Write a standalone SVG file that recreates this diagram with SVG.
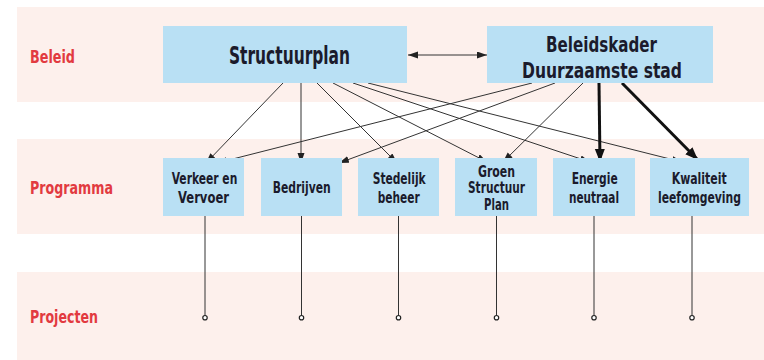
<svg xmlns="http://www.w3.org/2000/svg" width="764" height="360" viewBox="0 0 764 360">
<style>
.band{fill:#fdf0ec}
.box{fill:#b9e0f4}
.lbl{font-family:"Liberation Sans Narrow","DejaVu Sans Condensed","Liberation Sans",Arial,sans-serif;font-weight:bold;fill:#e23a40;font-size:17px}
.big{font-family:"Liberation Sans Narrow","DejaVu Sans Condensed","Liberation Sans",Arial,sans-serif;font-weight:bold;fill:#1b1b2c;font-size:25px}
.big2{font-family:"Liberation Sans Narrow","DejaVu Sans Condensed","Liberation Sans",Arial,sans-serif;font-weight:bold;fill:#1b1b2c;font-size:22px}
.t{font-family:"Liberation Sans Narrow","DejaVu Sans Condensed","Liberation Sans",Arial,sans-serif;font-weight:bold;fill:#1b1b2c;font-size:15px}
.c{stroke:#333;stroke-width:1;fill:none}
.ck{stroke:#111;stroke-width:3;fill:none}
.v{stroke:#333;stroke-width:1}
.dot{fill:#fff;stroke:#222;stroke-width:1.2}
</style>
<defs>
<marker id="ah" markerUnits="userSpaceOnUse" markerWidth="10" markerHeight="8" refX="10" refY="3.5" orient="auto-start-reverse"><path d="M0,0 L10,3.5 L0,7 z" fill="#222"/></marker>
<marker id="ahk" markerUnits="userSpaceOnUse" markerWidth="14" markerHeight="11" refX="13" refY="5" orient="auto"><path d="M0,0 L13,5 L0,10 z" fill="#111"/></marker>
</defs>
<g id="bands">
<rect class="band" x="17" y="7" width="747" height="95"/>
<rect class="band" x="17" y="139" width="747" height="95"/>
<rect class="band" x="17" y="272" width="747" height="88"/>
<text class="lbl" x="30" y="63" textLength="45" lengthAdjust="spacingAndGlyphs">Beleid</text>
<text class="lbl" x="30" y="194" textLength="83" lengthAdjust="spacingAndGlyphs">Programma</text>
<text class="lbl" x="30" y="323" textLength="68" lengthAdjust="spacingAndGlyphs">Projecten</text>
</g>
<g id="connectors">
<line class="c" x1="408" y1="55" x2="487" y2="55" marker-start="url(#ah)" marker-end="url(#ah)"/>
<line class="c" x1="283" y1="83" x2="206" y2="163" marker-end="url(#ah)"/>
<line class="c" x1="301" y1="83" x2="301" y2="163" marker-end="url(#ah)"/>
<line class="c" x1="317" y1="83" x2="397" y2="163" marker-end="url(#ah)"/>
<line class="c" x1="333" y1="83" x2="487" y2="162" marker-end="url(#ah)"/>
<line class="c" x1="353" y1="83" x2="590" y2="162" marker-end="url(#ah)"/>
<line class="c" x1="368" y1="83" x2="682" y2="162" marker-end="url(#ah)"/>
<line class="c" x1="532" y1="83" x2="217" y2="163" marker-end="url(#ah)"/>
<line class="c" x1="555" y1="83" x2="339" y2="163" marker-end="url(#ah)"/>
<line class="c" x1="583" y1="83" x2="503" y2="162" marker-end="url(#ah)"/>
<line class="ck" x1="599" y1="83" x2="600" y2="162" marker-end="url(#ahk)"/>
<line class="ck" x1="622" y1="83" x2="698" y2="160" marker-end="url(#ahk)"/>
<line class="v" x1="205" y1="216" x2="205" y2="315.5"/>
<line class="v" x1="301.5" y1="216" x2="301.5" y2="315.5"/>
<line class="v" x1="398.5" y1="216" x2="398.5" y2="315.5"/>
<line class="v" x1="496.5" y1="216" x2="496.5" y2="315.5"/>
<line class="v" x1="594" y1="216" x2="594" y2="315.5"/>
<line class="v" x1="692" y1="216" x2="692" y2="315.5"/>
<circle class="dot" cx="205" cy="317.7" r="2.2"/>
<circle class="dot" cx="301.5" cy="317.7" r="2.2"/>
<circle class="dot" cx="398.5" cy="317.7" r="2.2"/>
<circle class="dot" cx="496.5" cy="317.7" r="2.2"/>
<circle class="dot" cx="594" cy="317.7" r="2.2"/>
<circle class="dot" cx="692" cy="317.7" r="2.2"/>
</g>
<g id="structuurplan">
<rect class="box" x="163" y="26" width="244" height="57"/>
<text class="big" x="229" y="64" textLength="121" lengthAdjust="spacingAndGlyphs">Structuurplan</text>
</g>
<g id="beleidskader">
<rect class="box" x="487" y="26" width="226" height="57"/>
<text class="big2"><tspan x="546" y="51.5" textLength="111" lengthAdjust="spacingAndGlyphs">Beleidskader</tspan><tspan x="522" y="77.5" textLength="160" lengthAdjust="spacingAndGlyphs">Duurzaamste stad</tspan></text>
</g>
<g id="verkeer">
<rect class="box" x="163" y="158" width="81" height="58"/>
<text class="t"><tspan x="171.7" y="184" textLength="65.6" lengthAdjust="spacingAndGlyphs">Verkeer en</tspan><tspan x="178" y="202.5" textLength="51" lengthAdjust="spacingAndGlyphs">Vervoer</tspan></text>
</g>
<g id="bedrijven">
<rect class="box" x="261" y="158" width="81" height="58"/>
<text class="t" x="272.7" y="193.3" textLength="58" lengthAdjust="spacingAndGlyphs">Bedrijven</text>
</g>
<g id="stedelijk">
<rect class="box" x="358" y="158" width="81" height="58"/>
<text class="t"><tspan x="372.7" y="184" textLength="53" lengthAdjust="spacingAndGlyphs">Stedelijk</tspan><tspan x="377.7" y="202.5" textLength="42" lengthAdjust="spacingAndGlyphs">beheer</tspan></text>
</g>
<g id="groen">
<rect class="box" x="455" y="158" width="82" height="58"/>
<text class="t"><tspan x="478" y="176.5" textLength="37" lengthAdjust="spacingAndGlyphs">Groen</tspan><tspan x="468" y="193.3" textLength="57" lengthAdjust="spacingAndGlyphs">Structuur</tspan><tspan x="484" y="210" textLength="25" lengthAdjust="spacingAndGlyphs">Plan</tspan></text>
</g>
<g id="energie">
<rect class="box" x="553" y="158" width="82" height="58"/>
<text class="t"><tspan x="571.7" y="184.3" textLength="46" lengthAdjust="spacingAndGlyphs">Energie</tspan><tspan x="569" y="202.7" textLength="50" lengthAdjust="spacingAndGlyphs">neutraal</tspan></text>
</g>
<g id="kwaliteit">
<rect class="box" x="650" y="158" width="99" height="58"/>
<text class="t"><tspan x="671.7" y="184.3" textLength="55" lengthAdjust="spacingAndGlyphs">Kwaliteit</tspan><tspan x="658" y="202.7" textLength="83" lengthAdjust="spacingAndGlyphs">leefomgeving</tspan></text>
</g>
</svg>
